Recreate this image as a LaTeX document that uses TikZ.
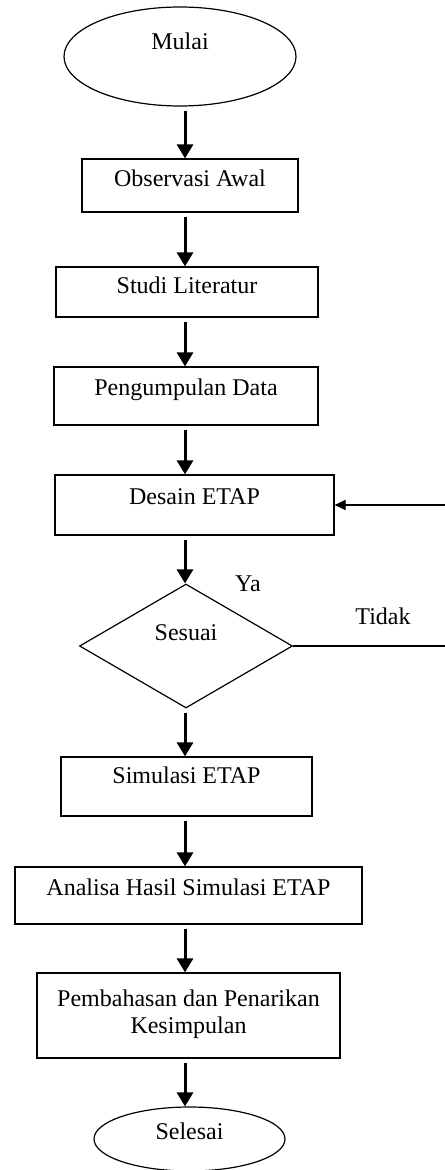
\documentclass[tikz,border=0pt]{standalone}
\usepackage{fontspec}
\setmainfont{Liberation Serif}
\usepackage{tikz}
\usetikzlibrary{positioning, arrows.meta, shapes.geometric}
\tikzstyle{arrow} = [line width=1.5pt,-{Triangle[length=7pt,width=8pt]},shorten <=2pt]

\begin{document}
\begin{tikzpicture}[x=0.5pt, y=-0.5pt]
        \tikzstyle{every node}=[font=\fontsize{12}{13.5}\selectfont]
        \tikzstyle{terminal} = [ellipse, draw=black, line width=0.6pt, inner sep=0pt, text height=9pt]
        \tikzstyle{kotak} = [rectangle, draw=black, line width=0.6pt, inner sep=0pt, text height=9pt]
        \tikzstyle{kotak2} = [rectangle, draw=black, line width=0.6pt, align=center]
        \tikzstyle{keputusan} = [diamond, draw=black, line width=0.6pt, inner sep=0pt, text height=9pt]
        \tikzstyle{balik} = [line width=0.6pt, -{Triangle[length=5.5pt,width=5pt]}]

        \useasboundingbox (0,0) rectangle (444,1170);

        \node[terminal, minimum width=116pt, minimum height=49.5pt, text depth=16pt](mulai) at (180,56.5) {Mulai};
        \node[kotak, minimum width=108pt, minimum height=26.5pt, text depth=7.5pt](obs) at (190,185.5) {Observasi Awal};
        \node[kotak, minimum width=131pt, minimum height=25pt, text depth=7pt](studi) at (187,292) {Studi Literatur};
        \node[kotak, minimum width=132pt, minimum height=29pt, text depth=10pt](data) at (186,396) {Pengumpulan Data};
        \node[kotak, minimum width=139.5pt, minimum height=30pt, text depth=10pt](desain) at (194.5,505) {Desain ETAP};
        \node[keputusan, minimum width=106.5pt, minimum height=62pt, text depth=15pt](sesuai) at (186,646) {Sesuai};
        \node[kotak, minimum width=125.5pt, minimum height=29.5pt, text depth=12.5pt](simulasi) at (186.5,786.5) {Simulasi ETAP};
        \node[kotak, minimum width=173.5pt, minimum height=28.5pt, text depth=9.5pt](analisa) at (188.5,895.5) {Analisa Hasil Simulasi ETAP\hspace{15pt}};
        \node[kotak2, minimum width=151.5pt, minimum height=42.5pt](bahas) at (188.5,1015.5) {Pembahasan dan Penarikan\\Kesimpulan\\[-10pt]};
        \node[terminal, minimum width=95.5pt, minimum height=32pt, text depth=9pt](selesai) at (189.5,1139) {Selesai};

        % label keputusan
        \node(ya) at (248,584) {Ya};
        \node(tidak) at (383,616) {Tidak};

        % alur utama
        \coordinate (tengah) at (185,0);
        \draw[arrow] (mulai.south -| tengah) -- (obs.north -| tengah);
        \draw[arrow] (obs.south -| tengah) -- (studi.north -| tengah);
        \draw[arrow] (studi.south -| tengah) -- (data.north -| tengah);
        \draw[arrow] (data.south -| tengah) -- (desain.north -| tengah);
        \draw[arrow] (desain.south -| tengah) -- (sesuai.north -| tengah);
        \draw[arrow] (sesuai.south -| tengah) -- (simulasi.north -| tengah);
        \draw[arrow] (simulasi.south -| tengah) -- (analisa.north -| tengah);
        \draw[arrow] (analisa.south -| tengah) -- (bahas.north -| tengah);
        \draw[arrow] (bahas.south -| tengah) -- (selesai.north -| tengah);

        % kembali ke desain
        \coordinate (kanan) at (448,646);
        \draw[balik] (sesuai.east) -- (kanan) -- (kanan |- desain.east) -- (desain.east);

\end{tikzpicture}
\end{document}
